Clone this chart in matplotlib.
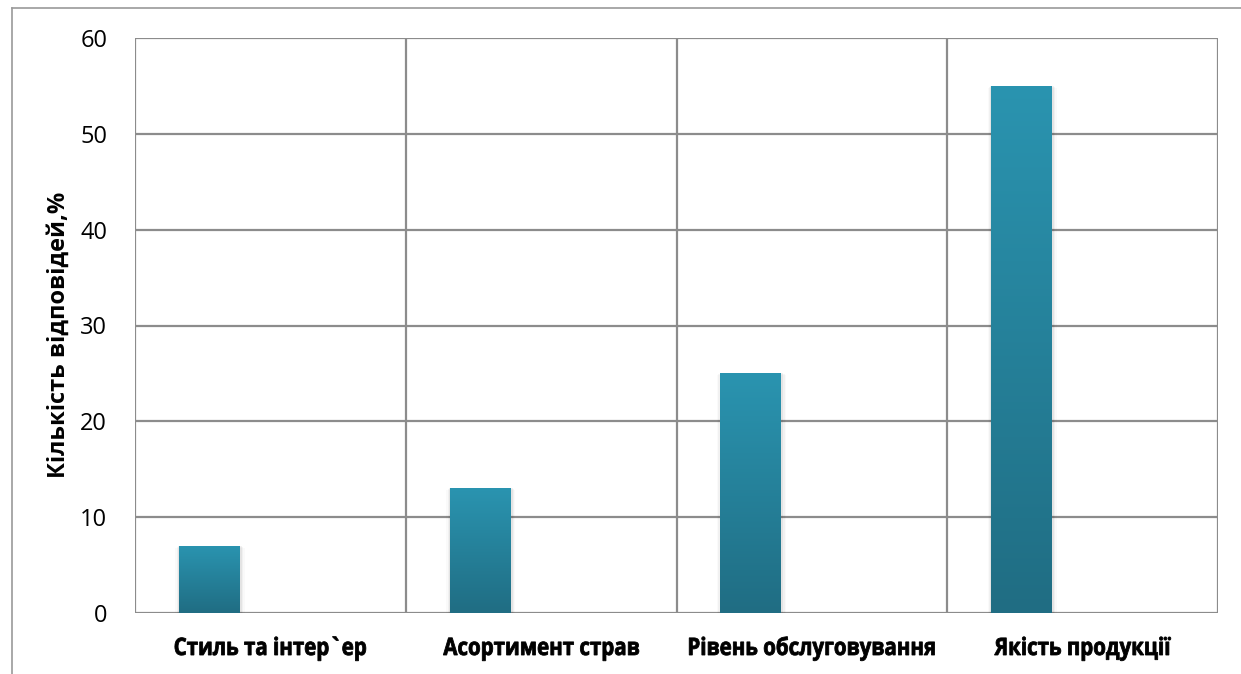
import matplotlib.pyplot as plt
import numpy as np
import matplotlib.transforms as mtransforms
from matplotlib.colors import LinearSegmentedColormap
from matplotlib.lines import Line2D
from matplotlib.textpath import TextPath
from matplotlib.patches import PathPatch
from matplotlib.font_manager import FontProperties

categories = ["Стиль та інтер`ер", "Асортимент страв", "Рівень обслуговування", "Якість продукції"]
values = [7, 13, 25, 55]
y_ticks = [0, 10, 20, 30, 40, 50, 60]

GRID = "#8c8c8c"
TOP_COLOR = "#2a94b0"
BOTTOM_COLOR = "#206d83"
W, H = 1241, 674

fig = plt.figure(figsize=(W / 100, H / 100), dpi=100)
ax = fig.add_axes([135 / W, 1 - 613 / H, (1218 - 135) / W, (613 - 38) / H])

n = len(categories)
x = np.arange(n)
bar_w = 0.225
bar_x = x - 0.225

ax.set_xlim(-0.5, n - 0.5)
ax.set_ylim(0, 60)

# gradient fill for the bars, with a faint shadow on the sides
cmap = LinearSegmentedColormap.from_list("bar", [BOTTOM_COLOR, TOP_COLOR])
grad = np.linspace(0, 1, 256).reshape(-1, 1)
for bx, v in zip(bar_x, values):
    for k, a in enumerate([0.05, 0.035, 0.02]):
        d = 0.005 * (k + 1)
        ax.bar(bx + 0.002, v - 0.1 * k, width=bar_w + 2 * d, color="black",
               alpha=a, linewidth=0, zorder=2)
    rect = ax.bar(bx, v, width=bar_w, color="none", linewidth=0, zorder=3)[0]
    im = ax.imshow(grad, cmap=cmap, aspect="auto", origin="lower",
                   extent=[bx - bar_w / 2, bx + bar_w / 2, 0, v], zorder=3)
    im.set_clip_path(rect)

ax.set_xlim(-0.5, n - 0.5)
ax.set_ylim(0, 60)

ax.set_yticks(y_ticks)
ax.set_yticklabels([str(t) for t in y_ticks], fontsize=17, family="Open Sans")
ax.set_xticks(x)
ax.set_xticklabels([""] * n)
ax.tick_params(axis="both", length=0)
ax.tick_params(axis="y", pad=20)
for t in y_ticks:
    ax.axhline(t, color=GRID, linewidth=1.6, zorder=1)
for b in np.arange(-0.5, n, 1.0):
    ax.axvline(b, color=GRID, linewidth=1.6, zorder=1)
for s in ax.spines.values():
    s.set_visible(False)

ax.set_ylabel("Кількість відповідей,%", fontsize=17, fontweight="bold",
              family="Open Sans")
ax.yaxis.set_label_coords(-0.059, 0.484)

# category names: heavy, horizontally condensed lettering
prop = FontProperties(family="Open Sans", weight="bold")
paths = [TextPath((0, 0), c, size=24, prop=prop) for c in categories]
sx = 191 / paths[0].get_extents().width
for i, p in enumerate(paths):
    ext = p.get_extents()
    cx = ax.transData.transform((i, 0))[0]
    tr = mtransforms.Affine2D().translate(-(ext.x0 + ext.width / 2), 0) \
        .scale(sx, 1).translate(cx, H - 655)
    fig.add_artist(PathPatch(p, transform=tr, facecolor="black",
                             edgecolor="black", linewidth=0.6))

# outer chart frame
fig.add_artist(Line2D([12 / W, 12 / W], [0, 1 - 8 / H], color="#9a9a9a",
                      linewidth=1.2, transform=fig.transFigure))
fig.add_artist(Line2D([12 / W, 1], [1 - 8 / H, 1 - 8 / H], color="#9a9a9a",
                      linewidth=1.2, transform=fig.transFigure))

fig.savefig("out.png", dpi=100)
